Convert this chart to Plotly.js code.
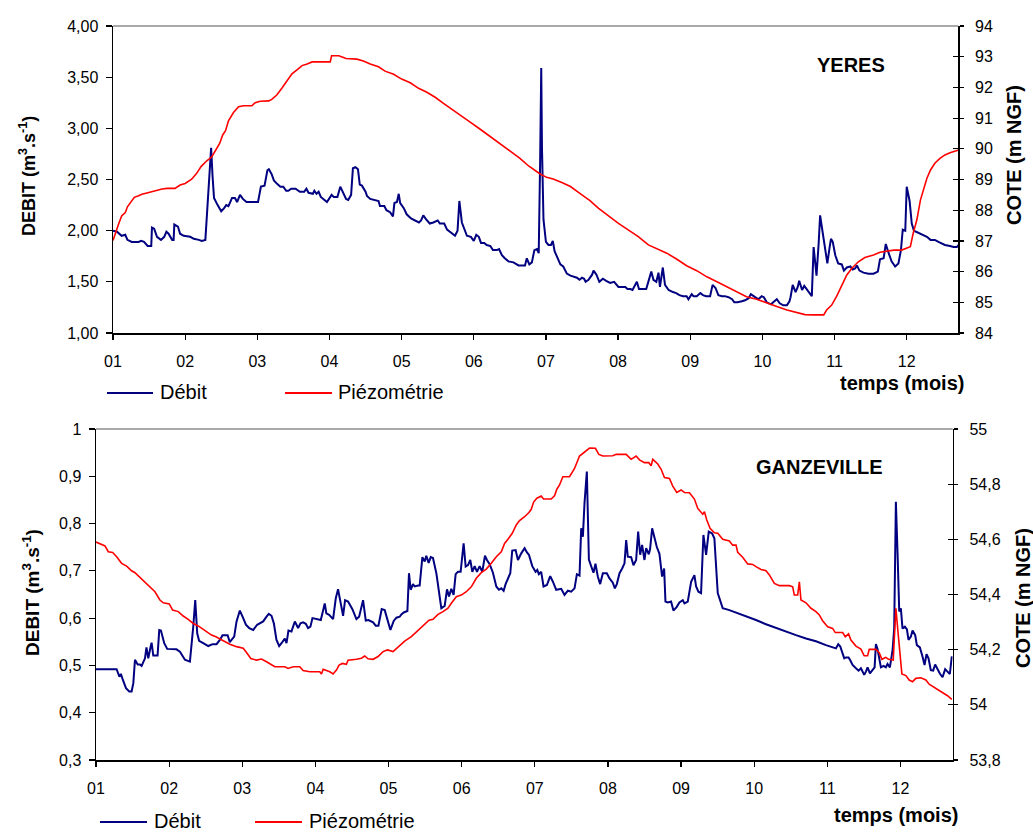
<!DOCTYPE html>
<html>
<head>
<meta charset="utf-8">
<script src="https://cdn.plot.ly/plotly-3.0.1.min.js"></script>
<style>html,body{margin:0;padding:0;background:#fff;}#chart{width:1033px;height:832px;}</style>
</head>
<body>
<div id="chart"></div>
<script>
// ---------- DATA ----------
const monthTicks = [1,2,3,4,5,6,7,8,9,10,11,12];
const monthLabels = ['01','02','03','04','05','06','07','08','09','10','11','12'];

const yeresDebitTicks = [1,1.5,2,2.5,3,3.5,4];
const yeresDebitLabels = ['1,00','1,50','2,00','2,50','3,00','3,50','4,00'];
const yeresCoteTicks = [84,85,86,87,88,89,90,91,92,93,94];
const yeresCoteLabels = ['84','85','86','87','88','89','90','91','92','93','94'];

const ganzDebitTicks = [0.3,0.4,0.5,0.6,0.7,0.8,0.9,1];
const ganzDebitLabels = ['0,3','0,4','0,5','0,6','0,7','0,8','0,9','1'];
const ganzCoteTicks = [53.8,54,54.2,54.4,54.6,54.8,55];
const ganzCoteLabels = ['53,8','54','54,2','54,4','54,6','54,8','55'];

// YERES - débit (m3/s)
const yeresDebitMonth = [
 1.00,1.055,1.12,1.17,1.20,1.26,1.355,1.39,1.43,1.48,
 1.53,1.54,1.57,1.61,1.665,1.71,1.74,1.77,1.82,1.84,
 1.85,1.90,1.93,1.98,2.07,2.12,2.19,2.23,2.28,2.325,
 2.36,2.38,2.40,2.45,2.50,2.54,2.57,2.60,2.65,2.69,
 2.72,2.76,2.80,2.85,2.95,3.01,3.05,3.10,3.14,3.16,
 3.20,3.23,3.27,3.32,3.36,3.40,3.43,3.47,3.53,3.59,
 3.65,3.68,3.71,3.77,3.79,3.82,3.85,3.88,3.965,4.03,
 4.06,4.11,4.15,4.19,4.23,4.26,4.30,4.325,4.36,4.395,
 4.42,4.45,4.50,4.52,4.565,4.68,4.70,4.76,4.79,4.84,
 4.88,4.90,4.935,4.96,4.98,5.03,5.07,5.13,5.19,5.24,
 5.27,5.30,5.34,5.39,5.44,5.50,5.53,5.59,5.63,5.70,
 5.74,5.775,5.80,5.835,5.87,5.905,5.96,6.00,6.035,6.07,
 6.10,6.145,6.18,6.23,6.265,6.32,6.35,6.39,6.43,6.48,
 6.55,6.62,6.665,6.71,6.735,6.77,6.805,6.84,6.875,6.90,
 6.92,6.935,6.945,6.966,7.00,7.035,7.07,7.095,7.12,7.16,
 7.20,7.24,7.29,7.34,7.38,7.43,7.465,7.50,7.53,7.55,
 7.59,7.64,7.66,7.70,7.74,7.79,7.835,7.89,7.945,8.005,
 8.05,8.10,8.13,8.17,8.20,8.26,8.29,8.39,8.46,8.49,
 8.53,8.56,8.58,8.62,8.65,8.70,8.76,8.805,8.85,8.90,
 8.95,8.975,9.02,9.045,9.09,9.14,9.175,9.22,9.275,9.31,
 9.35,9.39,9.44,9.48,9.53,9.58,9.61,9.655,9.715,9.76,
 9.81,9.84,9.90,9.945,9.99,10.02,10.06,10.12,10.15,10.20,
 10.24,10.29,10.34,10.375,10.39,10.42,10.46,10.49,10.51,10.55,
 10.58,10.61,10.65,10.685,10.71,10.73,10.75,10.78,10.80,10.84,
 10.87,10.90,10.93,10.95,10.975,11.01,11.05,11.10,11.13,11.17,
 11.22,11.25,11.285,11.31,11.345,11.40,11.47,11.54,11.60,11.63,
 11.68,11.71,11.75,11.79,11.84,11.885,11.92,11.945,11.98,12.00,
 12.04,12.07,12.10,12.16,12.21,12.28,12.33,12.39,12.44,12.49,
 12.53,12.60,12.65,12.695,12.72
];
const yeresDebit = [
 2.00,1.99,1.95,1.96,1.91,1.89,1.89,1.90,1.89,1.85,
 1.85,2.03,2.02,1.94,1.91,1.94,1.99,1.97,1.91,1.91,
 2.06,2.04,1.97,1.95,1.94,1.92,1.91,1.90,1.91,2.37,
 2.81,2.53,2.32,2.25,2.19,2.22,2.25,2.24,2.32,2.32,
 2.28,2.35,2.31,2.28,2.28,2.28,2.43,2.44,2.59,2.60,
 2.55,2.49,2.46,2.43,2.43,2.39,2.39,2.41,2.41,2.38,
 2.38,2.41,2.37,2.36,2.39,2.36,2.38,2.33,2.28,2.35,
 2.33,2.33,2.43,2.37,2.31,2.30,2.35,2.61,2.62,2.60,
 2.45,2.44,2.38,2.34,2.31,2.29,2.24,2.24,2.20,2.18,
 2.14,2.27,2.28,2.36,2.27,2.22,2.16,2.12,2.10,2.08,
 2.10,2.15,2.11,2.07,2.08,2.10,2.07,2.07,2.01,1.97,
 1.95,2.00,2.29,2.08,2.01,1.95,1.94,1.90,1.96,1.94,
 1.88,1.88,1.86,1.85,1.81,1.81,1.82,1.76,1.73,1.70,
 1.69,1.66,1.66,1.66,1.73,1.67,1.69,1.81,1.82,1.78,
 2.69,3.59,2.82,2.11,1.89,1.86,1.86,1.90,1.80,1.74,
 1.67,1.65,1.58,1.56,1.55,1.54,1.52,1.54,1.53,1.50,
 1.52,1.57,1.61,1.57,1.50,1.53,1.51,1.49,1.50,1.45,
 1.45,1.45,1.43,1.43,1.42,1.50,1.43,1.43,1.60,1.52,
 1.50,1.59,1.45,1.64,1.47,1.42,1.40,1.39,1.37,1.36,
 1.36,1.33,1.38,1.36,1.36,1.39,1.37,1.36,1.36,1.47,
 1.44,1.37,1.36,1.36,1.35,1.33,1.30,1.30,1.31,1.32,
 1.34,1.38,1.35,1.33,1.36,1.35,1.30,1.28,1.30,1.33,
 1.29,1.27,1.27,1.31,1.35,1.47,1.40,1.45,1.51,1.42,
 1.46,1.43,1.40,1.36,1.84,1.71,1.56,1.88,2.15,1.96,
 1.80,1.68,1.83,1.92,1.89,1.76,1.68,1.67,1.61,1.64,
 1.65,1.62,1.63,1.66,1.61,1.59,1.58,1.58,1.60,1.72,
 1.73,1.87,1.78,1.70,1.65,1.68,1.81,2.01,2.00,2.43,
 2.29,2.07,2.00,1.98,1.96,1.94,1.91,1.91,1.89,1.87,
 1.86,1.85,1.84,1.84,1.86
];

// YERES - piézométrie (m NGF)
const yeresCoteMonth = [
 1.00,1.03,1.08,1.12,1.17,1.20,1.25,1.295,1.355,1.40,
 1.47,1.54,1.61,1.68,1.75,1.86,1.93,2.00,2.09,2.16,
 2.22,2.30,2.37,2.42,2.48,2.52,2.56,2.60,2.67,2.74,
 2.81,2.925,2.97,3.04,3.16,3.20,3.27,3.34,3.41,3.48,
 3.55,3.62,3.69,3.76,3.87,4.01,4.03,4.13,4.23,4.38,
 4.47,4.565,4.68,4.77,4.89,5.00,5.12,5.235,5.35,5.47,
 5.58,5.72,5.84,5.95,6.07,6.18,6.30,6.41,6.53,6.64,
 6.76,6.85,6.92,7.01,7.10,7.22,7.34,7.47,7.61,7.73,
 7.87,8.005,8.14,8.28,8.42,8.54,8.675,8.81,8.95,9.09,
 9.23,9.37,9.51,9.645,9.78,9.92,10.06,10.20,10.34,10.48,
 10.59,10.71,10.85,10.89,10.96,11.03,11.10,11.17,11.24,11.33,
 11.42,11.54,11.63,11.72,11.82,11.93,12.00,12.05,12.09,12.14,
 12.19,12.23,12.28,12.33,12.39,12.46,12.53,12.60,12.67,12.72
];
const yeresCote = [
 87.01,87.25,87.57,87.81,87.92,88.11,88.28,88.42,88.47,88.52,
 88.56,88.60,88.66,88.69,88.71,88.71,88.82,88.87,89.01,89.20,
 89.42,89.61,89.74,89.93,90.18,90.45,90.59,90.91,91.18,91.37,
 91.40,91.40,91.50,91.55,91.56,91.61,91.75,91.97,92.19,92.44,
 92.57,92.71,92.76,92.83,92.83,92.83,93.03,93.03,92.94,92.92,
 92.86,92.76,92.67,92.53,92.43,92.27,92.15,91.97,91.84,91.67,
 91.48,91.24,91.05,90.87,90.67,90.48,90.29,90.10,89.88,89.69,
 89.44,89.28,89.18,89.07,89.02,88.90,88.77,88.55,88.31,88.06,
 87.81,87.57,87.36,87.14,86.87,86.75,86.60,86.41,86.19,86.03,
 85.83,85.67,85.51,85.35,85.18,85.10,84.97,84.86,84.75,84.66,
 84.60,84.59,84.59,84.75,84.91,85.20,85.56,85.89,86.11,86.32,
 86.46,86.54,86.63,86.67,86.70,86.70,86.76,86.81,87.25,87.68,
 88.33,88.66,89.04,89.31,89.53,89.69,89.80,89.87,89.93,89.96
];

// GANZEVILLE - débit (m3/s)
const ganzDebitMonth = [
 1.00,1.282,1.32,1.34,1.364,1.41,1.455,1.487,1.51,1.533,
 1.57,1.60,1.624,1.67,1.69,1.715,1.738,1.76,1.783,1.842,
 1.865,1.888,1.933,1.974,2.10,2.148,2.216,2.284,2.33,2.357,
 2.384,2.41,2.466,2.535,2.594,2.648,2.694,2.73,2.80,2.83,
 2.853,2.89,2.922,2.967,3.004,3.05,3.095,3.15,3.204,3.25,
 3.286,3.332,3.363,3.40,3.432,3.468,3.505,3.55,3.582,3.605,
 3.632,3.673,3.719,3.764,3.796,3.832,3.869,3.90,3.932,3.96,
 4.014,4.074,4.128,4.15,4.188,4.242,4.279,4.31,4.342,4.379,
 4.406,4.447,4.506,4.561,4.598,4.616,4.652,4.689,4.725,4.789,
 4.825,4.862,4.907,4.948,4.98,5.026,5.071,5.108,5.153,5.176,
 5.208,5.258,5.28,5.303,5.335,5.358,5.404,5.426,5.463,5.495,
 5.517,5.549,5.577,5.608,5.654,5.69,5.722,5.768,5.80,5.827,
 5.859,5.89,5.918,5.95,5.986,6.027,6.055,6.087,6.118,6.146,
 6.178,6.21,6.246,6.282,6.319,6.346,6.383,6.428,6.474,6.51,
 6.542,6.574,6.601,6.665,6.692,6.738,6.77,6.815,6.861,6.893,
 6.92,6.966,7.011,7.034,7.056,7.088,7.12,7.166,7.211,7.248,
 7.293,7.362,7.407,7.453,7.498,7.544,7.576,7.612,7.635,7.658,
 7.68,7.712,7.74,7.771,7.803,7.83,7.862,7.894,7.931,7.985,
 8.022,8.067,8.095,8.122,8.159,8.195,8.227,8.25,8.272,8.318,
 8.35,8.386,8.414,8.441,8.468,8.50,8.523,8.559,8.577,8.605,
 8.637,8.668,8.705,8.741,8.769,8.787,8.819,8.864,8.896,8.942,
 8.978,9.024,9.047,9.092,9.138,9.183,9.206,9.238,9.274,9.306,
 9.343,9.379,9.425,9.456,9.502,9.547,9.57,9.661,9.752,9.889,
 10.025,10.162,10.299,10.435,10.572,10.709,10.845,10.982,11.118,11.15,
 11.178,11.21,11.232,11.255,11.291,11.314,11.346,11.392,11.428,11.46,
 11.505,11.528,11.551,11.583,11.619,11.647,11.665,11.688,11.733,11.77,
 11.801,11.824,11.856,11.893,11.915,11.938,11.961,11.984,12.006,12.029,
 12.061,12.089,12.111,12.143,12.166,12.202,12.225,12.266,12.302,12.33,
 12.357,12.384,12.416,12.448,12.475,12.507,12.539,12.576,12.612,12.644,
 12.676,12.703
];
const ganzDebit = [
 0.492,0.492,0.476,0.482,0.471,0.452,0.445,0.445,0.462,0.512,
 0.502,0.502,0.499,0.515,0.538,0.515,0.533,0.548,0.521,0.521,
 0.575,0.574,0.547,0.535,0.534,0.529,0.512,0.508,0.582,0.638,
 0.568,0.552,0.547,0.541,0.545,0.545,0.554,0.564,0.564,0.549,
 0.554,0.561,0.593,0.616,0.603,0.586,0.579,0.575,0.586,0.591,
 0.593,0.603,0.609,0.605,0.589,0.554,0.541,0.550,0.557,0.547,
 0.574,0.572,0.593,0.579,0.589,0.591,0.588,0.579,0.582,0.600,
 0.598,0.596,0.631,0.610,0.607,0.598,0.642,0.661,0.635,0.605,
 0.638,0.635,0.619,0.598,0.603,0.614,0.638,0.595,0.596,0.591,
 0.584,0.584,0.619,0.617,0.598,0.575,0.594,0.601,0.603,0.608,
 0.612,0.615,0.695,0.660,0.672,0.667,0.669,0.669,0.729,0.720,
 0.732,0.717,0.729,0.727,0.695,0.660,0.621,0.626,0.661,0.646,
 0.662,0.649,0.693,0.698,0.698,0.758,0.709,0.712,0.723,0.698,
 0.710,0.698,0.710,0.698,0.732,0.723,0.714,0.696,0.667,0.660,
 0.663,0.658,0.672,0.695,0.743,0.744,0.723,0.737,0.748,0.739,
 0.734,0.710,0.698,0.702,0.693,0.698,0.667,0.670,0.689,0.677,
 0.660,0.662,0.649,0.658,0.656,0.663,0.693,0.690,0.790,0.772,
 0.843,0.910,0.724,0.710,0.696,0.715,0.688,0.672,0.695,0.695,
 0.684,0.675,0.663,0.672,0.695,0.705,0.716,0.765,0.730,0.729,
 0.712,0.723,0.783,0.734,0.755,0.723,0.748,0.735,0.746,0.790,
 0.769,0.751,0.736,0.688,0.705,0.635,0.633,0.635,0.616,0.624,
 0.633,0.638,0.631,0.635,0.677,0.691,0.667,0.656,0.653,0.776,
 0.734,0.783,0.779,0.769,0.653,0.628,0.621,0.617,0.612,0.603,
 0.596,0.587,0.579,0.572,0.564,0.557,0.551,0.543,0.536,0.545,
 0.540,0.525,0.515,0.517,0.517,0.511,0.501,0.494,0.489,0.494,
 0.480,0.487,0.496,0.483,0.489,0.496,0.545,0.534,0.496,0.499,
 0.496,0.503,0.496,0.533,0.578,0.846,0.737,0.614,0.621,0.578,
 0.582,0.576,0.554,0.561,0.574,0.564,0.543,0.538,0.519,0.501,
 0.524,0.515,0.490,0.489,0.502,0.492,0.483,0.475,0.492,0.487,
 0.482,0.519
];

// GANZEVILLE - piézométrie (m NGF)
const ganzCoteMonth = [
 1.00,1.077,1.123,1.168,1.228,1.282,1.35,1.419,1.487,1.533,
 1.601,1.669,1.738,1.806,1.874,1.92,2.002,2.047,2.125,2.193,
 2.261,2.33,2.398,2.466,2.512,2.58,2.639,2.694,2.762,2.83,
 2.922,3.013,3.058,3.117,3.195,3.263,3.332,3.40,3.445,3.582,
 3.627,3.696,3.787,3.832,3.924,4.06,4.083,4.106,4.197,4.242,
 4.288,4.324,4.37,4.424,4.447,4.561,4.629,4.675,4.72,4.789,
 4.857,4.925,4.985,5.062,5.153,5.221,5.312,5.358,5.426,5.494,
 5.554,5.608,5.677,5.745,5.813,5.859,5.927,5.995,6.064,6.132,
 6.20,6.269,6.337,6.405,6.474,6.542,6.587,6.633,6.692,6.747,
 6.792,6.861,6.92,6.952,6.984,7.029,7.088,7.12,7.225,7.27,
 7.302,7.339,7.384,7.475,7.544,7.612,7.68,7.749,7.83,7.876,
 7.931,8.067,8.113,8.25,8.318,8.386,8.432,8.50,8.559,8.591,
 8.614,8.682,8.728,8.773,8.842,8.887,8.942,9.001,9.047,9.115,
 9.183,9.229,9.297,9.32,9.352,9.397,9.456,9.502,9.57,9.661,
 9.707,9.752,9.775,9.843,9.912,9.98,10.025,10.094,10.162,10.208,
 10.276,10.344,10.481,10.527,10.549,10.595,10.618,10.64,10.709,10.777,
 10.845,10.891,10.936,11.005,11.073,11.109,11.21,11.246,11.291,11.323,
 11.392,11.46,11.505,11.551,11.574,11.665,11.71,11.747,11.801,11.838,
 11.902,11.938,11.975,12.02,12.075,12.12,12.166,12.211,12.28,12.348,
 12.393,12.448,12.507,12.576,12.644,12.703
];
const ganzCote = [
 54.590,54.582,54.576,54.555,54.552,54.537,54.513,54.503,54.486,54.479,
 54.462,54.446,54.428,54.410,54.380,54.370,54.366,54.344,54.338,54.322,
 54.310,54.295,54.286,54.274,54.263,54.253,54.247,54.239,54.229,54.220,
 54.211,54.205,54.190,54.168,54.162,54.166,54.156,54.147,54.138,54.138,
 54.132,54.138,54.138,54.124,54.120,54.120,54.112,54.129,54.120,54.112,
 54.126,54.144,54.150,54.147,54.162,54.165,54.169,54.177,54.167,54.165,
 54.175,54.193,54.199,54.193,54.213,54.231,54.247,54.259,54.274,54.292,
 54.307,54.310,54.328,54.338,54.350,54.368,54.392,54.398,54.410,54.428,
 54.459,54.479,54.492,54.513,54.537,54.555,54.585,54.600,54.622,54.652,
 54.668,54.682,54.697,54.709,54.735,54.749,54.757,54.746,54.746,54.758,
 54.782,54.797,54.827,54.827,54.857,54.902,54.915,54.931,54.930,54.908,
 54.902,54.903,54.908,54.908,54.890,54.902,54.888,54.878,54.878,54.867,
 54.890,54.873,54.854,54.824,54.821,54.793,54.770,54.779,54.770,54.769,
 54.746,54.712,54.691,54.700,54.670,54.640,54.624,54.622,54.600,54.594,
 54.579,54.579,54.553,54.535,54.511,54.509,54.501,54.491,54.486,54.471,
 54.440,54.432,54.432,54.428,54.398,54.398,54.446,54.380,54.370,54.350,
 54.338,54.326,54.305,54.283,54.277,54.262,54.262,54.247,54.257,54.235,
 54.213,54.202,54.178,54.178,54.201,54.201,54.189,54.165,54.172,54.165,
 54.162,54.350,54.241,54.112,54.106,54.090,54.084,54.096,54.098,54.090,
 54.075,54.066,54.054,54.042,54.033,54.020
];

const seriesNames = ['Débit','Piézométrie'];
const stationNames = ['YERES','GANZEVILLE'];

// ---------- STYLE ----------
const BLUE = '#000080', RED = '#FF0000';
const FONT = 'Liberation Sans, Arial, Helvetica, sans-serif';
const W = 1033, H = 832;
const px = v => v / W, py = v => 1 - v / H;

const traces = [
  {x: yeresDebitMonth, y: yeresDebit, xaxis:'x', yaxis:'y', mode:'lines', name:seriesNames[0],
   line:{color:BLUE, width:2}},
  {x: yeresCoteMonth, y: yeresCote, xaxis:'x', yaxis:'y2', mode:'lines', name:seriesNames[1],
   line:{color:RED, width:1.6}},
  {x: ganzDebitMonth, y: ganzDebit, xaxis:'x2', yaxis:'y3', mode:'lines', name:seriesNames[0],
   line:{color:BLUE, width:2}},
  {x: ganzCoteMonth, y: ganzCote, xaxis:'x2', yaxis:'y4', mode:'lines', name:seriesNames[1],
   line:{color:RED, width:1.6}},
  // empty traces that only carry the inner half of the right-axis tick marks
  {x: [], y: [], xaxis:'x', yaxis:'y5', mode:'lines', hoverinfo:'skip'},
  {x: [], y: [], xaxis:'x2', yaxis:'y6', mode:'lines', hoverinfo:'skip'}
];

const tickFont = {family: FONT, size: 16, color: '#000'};
function xAx(domain, anchor) {
  return {domain, anchor, range:[1, 12.715], tickvals: monthTicks, ticktext: monthLabels,
    showgrid:false, zeroline:false, showline:true, linecolor:'#000', linewidth:1.5,
    ticks:'outside', ticklen:5, tickwidth:1.2, tickcolor:'#000', tickfont: tickFont,
    ticklabelstandoff: 8, fixedrange:true};
}
function yLeft(domain, anchor, range, tv, tt) {
  return {domain, anchor, range, tickvals: tv, ticktext: tt, showgrid:false, zeroline:false,
    showline:true, linecolor:'#000', linewidth:1.5, ticks:'outside', ticklen:6, tickwidth:1.2,
    tickcolor:'#000', tickfont: tickFont, ticklabelstandoff: 4, fixedrange:true};
}
function yRight(overlay, anchor, range, tv, tt) {
  return {overlaying: overlay, side:'right', anchor, range, tickvals: tv, ticktext: tt,
    showgrid:false, zeroline:false, showline:true, linecolor:'#000', linewidth:1.5,
    ticks:'outside', ticklen:4, tickwidth:1.2, tickcolor:'#000', tickfont: tickFont,
    ticklabelstandoff: 8, fixedrange:true};
}
function yInner(overlay, anchor, range, tv) {
  return {overlaying: overlay, side:'right', anchor, range, tickvals: tv, showticklabels:false,
    showgrid:false, zeroline:false, showline:false, ticks:'inside', ticklen:5, tickwidth:1.2,
    tickcolor:'#000', fixedrange:true};
}

const topX = [px(113), px(958.3)], topY = [py(333), py(26)];
const botX = [px(96), px(952.7)], botY = [py(760), py(429)];

const layout = {
  width: W, height: H, margin:{l:0,r:0,t:0,b:0}, paper_bgcolor:'#fff', plot_bgcolor:'#fff',
  showlegend:false, font:{family: FONT, color:'#000'},
  xaxis: xAx(topX, 'y'),
  yaxis: yLeft(topY, 'x', [1,4], yeresDebitTicks, yeresDebitLabels),
  yaxis2: yRight('y', 'x', [84,94], yeresCoteTicks, yeresCoteLabels),
  xaxis2: xAx(botX, 'y3'),
  yaxis3: yLeft(botY, 'x2', [0.3,1], ganzDebitTicks, ganzDebitLabels),
  yaxis4: yRight('y3', 'x2', [53.8,55], ganzCoteTicks, ganzCoteLabels),
  yaxis5: yInner('y', 'x', [84,94], yeresCoteTicks),
  yaxis6: yInner('y3', 'x2', [53.8,55], ganzCoteTicks),
  shapes: [
    // plot-area top borders (grey)
    {type:'line', xref:'paper', yref:'paper', x0:topX[0], x1:topX[1], y0:topY[1], y1:topY[1], line:{color:'#8c8c8c', width:1.5}},
    {type:'line', xref:'paper', yref:'paper', x0:botX[0], x1:botX[1], y0:botY[1], y1:botY[1], line:{color:'#8c8c8c', width:1.5}},
    // legend samples
    {type:'line', xref:'paper', yref:'paper', x0:px(107), x1:px(153), y0:py(393), y1:py(393), line:{color:BLUE, width:2}},
    {type:'line', xref:'paper', yref:'paper', x0:px(285), x1:px(332), y0:py(393), y1:py(393), line:{color:RED, width:2}},
    {type:'line', xref:'paper', yref:'paper', x0:px(100), x1:px(147), y0:py(822), y1:py(822), line:{color:BLUE, width:2}},
    {type:'line', xref:'paper', yref:'paper', x0:px(255), x1:px(302), y0:py(822), y1:py(822), line:{color:RED, width:2}}
  ],
  annotations: [
    {text:'DEBIT (m<sup>3</sup>.s<sup>-1</sup>)', xref:'paper', yref:'paper', x:px(27), y:py(176), textangle:-90,
     showarrow:false, xanchor:'center', yanchor:'middle', font:{family:FONT, size:18, weight:'bold'}},
    {text:'COTE (m NGF)', xref:'paper', yref:'paper', x:px(1014), y:py(155), textangle:-90,
     showarrow:false, xanchor:'center', yanchor:'middle', font:{family:FONT, size:20, weight:'bold'}},
    {text:'DEBIT (m<sup>3</sup>.s<sup>-1</sup>)', xref:'paper', yref:'paper', x:px(31), y:py(593), textangle:-90,
     showarrow:false, xanchor:'center', yanchor:'middle', font:{family:FONT, size:19, weight:'bold'}},
    {text:'COTE (m NGF)', xref:'paper', yref:'paper', x:px(1023), y:py(598), textangle:-90,
     showarrow:false, xanchor:'center', yanchor:'middle', font:{family:FONT, size:20, weight:'bold'}},
    {text:stationNames[0], xref:'paper', yref:'paper', x:px(851), y:py(65), showarrow:false,
     xanchor:'center', yanchor:'middle', font:{family:FONT, size:20, weight:'bold'}},
    {text:stationNames[1], xref:'paper', yref:'paper', x:px(819), y:py(467), showarrow:false,
     xanchor:'center', yanchor:'middle', font:{family:FONT, size:20, weight:'bold'}},
    {text:'temps (mois)', xref:'paper', yref:'paper', x:px(966), y:py(383), showarrow:false,
     xanchor:'right', yanchor:'middle', font:{family:FONT, size:20, weight:'bold'}},
    {text:'temps (mois)', xref:'paper', yref:'paper', x:px(960), y:py(815), showarrow:false,
     xanchor:'right', yanchor:'middle', font:{family:FONT, size:20, weight:'bold'}},
    {text:seriesNames[0], xref:'paper', yref:'paper', x:px(158), y:py(392), showarrow:false,
     xanchor:'left', yanchor:'middle', font:{family:FONT, size:20}},
    {text:seriesNames[1], xref:'paper', yref:'paper', x:px(336), y:py(392), showarrow:false,
     xanchor:'left', yanchor:'middle', font:{family:FONT, size:20}},
    {text:seriesNames[0], xref:'paper', yref:'paper', x:px(152), y:py(821), showarrow:false,
     xanchor:'left', yanchor:'middle', font:{family:FONT, size:20}},
    {text:seriesNames[1], xref:'paper', yref:'paper', x:px(307), y:py(821), showarrow:false,
     xanchor:'left', yanchor:'middle', font:{family:FONT, size:20}}
  ]
};

Plotly.newPlot('chart', traces, layout, {displayModeBar:false, staticPlot:true});
</script>
</body>
</html>
